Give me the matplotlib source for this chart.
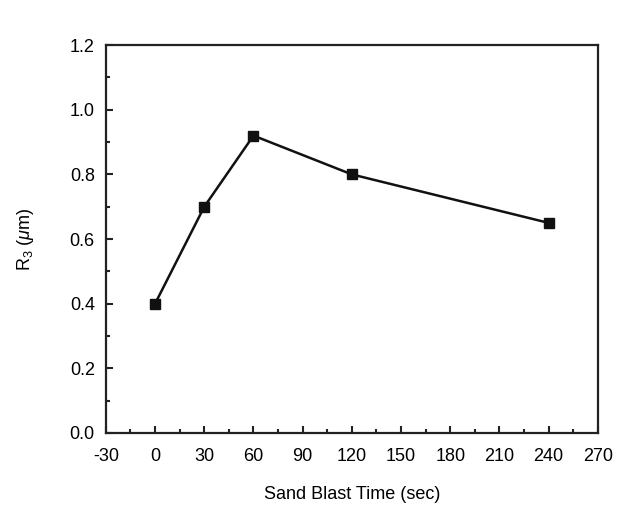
import matplotlib
matplotlib.use("Agg")
import matplotlib.pyplot as plt
from matplotlib.ticker import MultipleLocator, FormatStrFormatter

# dados
time_sec = [0, 30, 60, 120, 240]
r3_um = [0.40, 0.70, 0.92, 0.80, 0.65]

plt.rcParams['font.family'] = ['Liberation Sans', 'DejaVu Sans']
plt.rcParams['axes.unicode_minus'] = False
plt.rcParams['mathtext.fontset'] = 'custom'
plt.rcParams['mathtext.rm'] = 'Liberation Sans'
plt.rcParams['mathtext.it'] = 'Liberation Sans:italic'

fig = plt.figure(figsize=(6.34, 5.07), dpi=100)
ax = fig.add_axes([0.167, 0.146, 0.776, 0.765])

ax.plot(time_sec, r3_um, color='#111111', linewidth=1.8, marker='s',
        markersize=7, markerfacecolor='#111111')

ax.set_xlim(-30, 270)
ax.set_ylim(0.0, 1.2)
ax.xaxis.set_major_locator(MultipleLocator(30))
ax.xaxis.set_minor_locator(MultipleLocator(15))
ax.yaxis.set_major_locator(MultipleLocator(0.2))
ax.yaxis.set_minor_locator(MultipleLocator(0.1))
ax.yaxis.set_major_formatter(FormatStrFormatter('%.1f'))

ax.tick_params(which='both', direction='in', top=False, right=False,
               labelsize=13, color='#222222', width=1.5)
ax.tick_params(which='major', length=5)
ax.tick_params(which='minor', length=3)
ax.tick_params(axis='x', which='major', pad=11)
ax.tick_params(axis='y', which='major', pad=8)
for s in ax.spines.values():
    s.set_linewidth(1.6)
    s.set_color('#222222')

ax.set_xlabel('Sand Blast Time (sec)', fontsize=13, labelpad=15)
ax.set_ylabel(r'R$_3$ ($\mathit{\mu}$m)', fontsize=13, labelpad=24)

fig.savefig('out.png', dpi=100)
